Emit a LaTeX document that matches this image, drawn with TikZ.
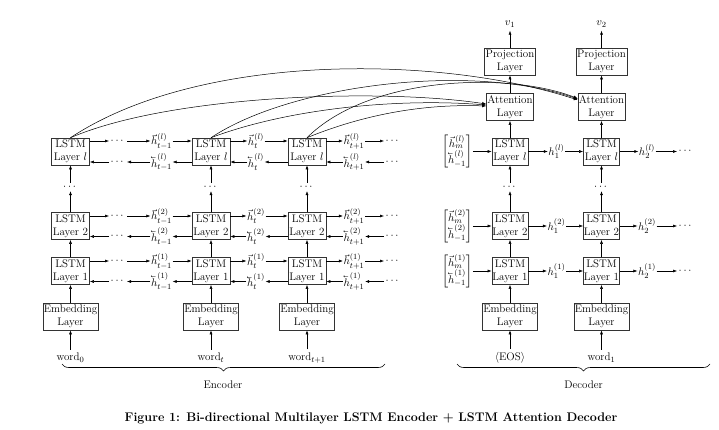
\documentclass[tikz,border=0pt]{standalone}
\usepackage{amsmath}
\usetikzlibrary{arrows.meta,decorations.pathreplacing}
\newcommand{\hback}[1]{\reflectbox{$\vec{\reflectbox{$#1$}}$}}
\begin{document}
\begin{tikzpicture}[x=1pt,y=-1pt, font={\fontsize{11}{13}\selectfont},
  box/.style={draw=black!80, line width=0.6pt, align=center, inner sep=0.5pt,
    minimum height=27pt},
  lstm/.style={box, minimum width=38pt},
  dlstm/.style={box, minimum width=36pt},
  emb/.style={box, minimum width=55pt},
  att/.style={box, minimum width=47pt},
  proj/.style={box, minimum width=51pt},
  arr/.style={-{Latex[length=4pt,width=3pt]}, line width=0.5pt},
  lbl/.style={inner sep=0.5pt},
  dts/.style={inner sep=1.5pt},
  brc/.style={decorate, decoration={brace, amplitude=7pt, mirror}, line width=0.6pt}]
\useasboundingbox (0,0) rectangle (719,430);

% ---------------- Encoder columns ----------------
\foreach \n/\x in {a/70.5, b/211, c/307} {
  \node[lstm] (\n l) at (\x,151.5) {LSTM\\Layer $l$};
  \node[lstm] (\n 2) at (\x,226) {LSTM\\Layer 2};
  \node[lstm] (\n 1) at (\x,271) {LSTM\\Layer 1};
  \node[emb]  (\n e) at (\x,316.5) {Embedding\\Layer};
  \node[dts]  (\n d) at (\x,187) {$\cdots$};
  \draw[arr] (\n e) -- (\n 1);
  \draw[arr] (\n 1) -- (\n 2);
  \draw[arr] (\n 2) -- (\n d);
  \draw[arr] (\n d) -- (\n l);
}
\node (aw) at (70.5,358) {word$_0$};
\node (bw) at (211,358) {word$_t$};
\node (cw) at (307,358) {word$_{t+1}$};
\draw[arr] (aw) -- (ae);
\draw[arr] (bw) -- (be);
\draw[arr] (cw) -- (ce);

% ---------------- Encoder horizontal connections ----------------
\foreach \r/\s/\fy/\by in {l/l/141/162, 2/2/216/236.5, 1/1/261/281.5} {
  \node[dts] (fd1\r) at (118,\fy) {$\cdots$};
  \node[lbl] (fh1\r) at (161.5,\fy) {$\vec{h}_{t-1}^{(\s)}$};
  \node[dts] (bd1\r) at (118,\by) {$\cdots$};
  \node[lbl] (bh1\r) at (161.5,\by) {$\hback{h}_{t-1}^{(\s)}$};
  \draw[arr] (a\r.east |- fd1\r) -- (fd1\r);
  \draw[arr] (fd1\r) -- (fh1\r);
  \draw[arr] (fh1\r) -- (b\r.west |- fh1\r);
  \draw[arr] (b\r.west |- bh1\r) -- (bh1\r);
  \draw[arr] (bh1\r) -- (bd1\r);
  \draw[arr] (bd1\r) -- (a\r.east |- bd1\r);
  \node[lbl] (fh2\r) at (256,\fy) {$\vec{h}_{t}^{(\s)}$};
  \node[lbl] (bh2\r) at (256,\by) {$\hback{h}_{t}^{(\s)}$};
  \draw[arr] (b\r.east |- fh2\r) -- (fh2\r);
  \draw[arr] (fh2\r) -- (c\r.west |- fh2\r);
  \draw[arr] (c\r.west |- bh2\r) -- (bh2\r);
  \draw[arr] (bh2\r) -- (b\r.east |- bh2\r);
  \node[lbl] (fh3\r) at (354,\fy) {$\vec{h}_{t+1}^{(\s)}$};
  \node[lbl] (bh3\r) at (354,\by) {$\hback{h}_{t+1}^{(\s)}$};
  \node[dts] (fd3\r) at (393,\fy) {$\cdots$};
  \node[dts] (bd3\r) at (393,\by) {$\cdots$};
  \draw[arr] (c\r.east |- fh3\r) -- (fh3\r);
  \draw[arr] (fh3\r) -- (fd3\r);
  \draw[arr] (bd3\r) -- (bh3\r);
  \draw[arr] (bh3\r) -- (c\r.east |- bh3\r);
}

% ---------------- Decoder columns ----------------
\foreach \n/\x in {p/510, q/601.5} {
  \node[dlstm] (\n l) at (\x,151.5) {LSTM\\Layer $l$};
  \node[dlstm] (\n 2) at (\x,226) {LSTM\\Layer 2};
  \node[dlstm] (\n 1) at (\x,271) {LSTM\\Layer 1};
  \node[emb]   (\n e) at (\x,316.5) {Embedding\\Layer};
  \node[dts]   (\n d) at (\x,187) {$\cdots$};
  \node[att]   (\n a) at (\x,107) {Attention\\Layer};
  \node[proj]  (\n p) at (\x,61.5) {Projection\\Layer};
  \draw[arr] (\n e) -- (\n 1);
  \draw[arr] (\n 1) -- (\n 2);
  \draw[arr] (\n 2) -- (\n d);
  \draw[arr] (\n d) -- (\n l);
  \draw[arr] (\n l) -- (\n a);
  \draw[arr] (\n a) -- (\n p);
}
\node (pv) at (510,24) {$v_1$};
\node (qv) at (601.5,24) {$v_2$};
\draw[arr] (pp) -- (pv);
\draw[arr] (qp) -- (qv);
\node (pw) at (510,358) {$\langle$EOS$\rangle$};
\node (qw) at (601.5,358) {word$_1$};
\draw[arr] (pw) -- (pe);
\draw[arr] (qw) -- (qe);

% ---------------- Decoder horizontal connections ----------------
\foreach \r/\s/\y in {l/l/151.5, 2/2/226, 1/1/271} {
  \node[lbl] (vec\r) at (457,\y) {$\left[\begin{array}{@{}c@{}}\vec{h}_m^{(\s)}\\[-1pt] \hback{h}_{-1}^{(\s)}\end{array}\right]$};
  \node[lbl] (dh1\r) at (556.5,\y) {$h_1^{(\s)}$};
  \node[lbl] (dh2\r) at (647,\y) {$h_2^{(\s)}$};
  \node[dts] (dd\r) at (686,\y) {$\cdots$};
  \draw[arr] (vec\r) -- (p\r);
  \draw[arr] (p\r) -- (dh1\r);
  \draw[arr] (dh1\r) -- (q\r);
  \draw[arr] (q\r) -- (dh2\r);
  \draw[arr] (dh2\r) -- (dd\r);
}

% ---------------- Attention connections ----------------
\draw[arr] (al.north) .. controls (200,52) and (440,55) .. ([yshift=7pt]qa.west);
\draw[arr] (al.north) .. controls (170,95) and (380,88) .. ([yshift=3pt]pa.west);
\draw[arr] (bl.north) .. controls (290,85) and (470,62) .. ([yshift=8pt]qa.west);
\draw[arr] (bl.north) .. controls (290,108) and (400,98) .. ([yshift=2pt]pa.west);
\draw[arr] (cl.north) .. controls (370,75) and (510,72) .. ([yshift=8.5pt]qa.west);
\draw[arr] (cl.north) .. controls (370,112) and (430,104) .. ([yshift=1pt]pa.west);

% ---------------- Braces ----------------
\coordinate (encL) at (62,364);
\coordinate (encR) at (385,364);
\coordinate (decL) at (457,364);
\coordinate (decR) at (710,364);
\draw[brc] (encL) -- (encR);
\draw[brc] (decL) -- (decR);
\node (enc) at (223,385) {Encoder};
\node (dec) at (583.5,385) {Decoder};

\node[font={\fontsize{12.5}{15}\selectfont\bfseries}] (cap) at (371,418) {Figure 1: Bi-directional Multilayer LSTM Encoder + LSTM Attention Decoder};
\end{tikzpicture}
\end{document}
